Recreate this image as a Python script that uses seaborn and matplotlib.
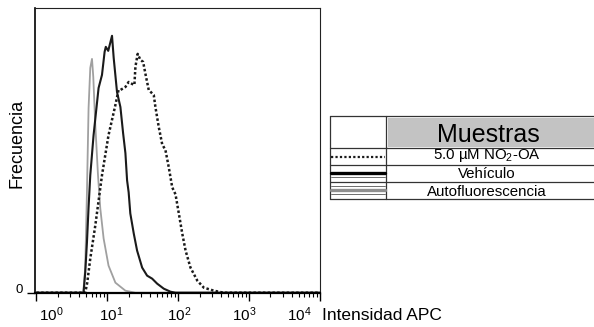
import numpy as np
import pandas as pd
import seaborn as sns
import matplotlib.pyplot as plt
from matplotlib.patches import Rectangle
from matplotlib.transforms import ScaledTranslation

# Histogram traces (APC intensity vs counts)
nitro_x = [1, 4.88, 5.21, 5.75, 6.77, 8.41, 10.4, 13.0, 14.4, 15.3,
           18.0, 20.0, 22.4, 24.1, 24.9, 26.8, 29.3, 32.0, 34.5, 38.4,
           45.2, 47.7, 53.2, 59.4, 66.1, 73.6, 82.3, 91.6, 102, 114,
           127, 149, 186, 230, 319, 437, 10000]
nitro_y = [0, 0, 10, 34, 67, 117, 157, 187, 202, 202,
           205, 210, 208, 207, 225, 238, 232, 230, 218, 202,
           197, 185, 165, 148, 142, 125, 105, 98, 79, 59,
           42, 25, 12, 5, 2, 0, 0]

veh_x = [1, 4.62, 4.88, 5.16, 5.44, 5.75, 6.40, 7.53, 8.41, 9.16,
         9.52, 10.3, 11.65, 12.3, 13.7, 15.3, 16.7, 18.0, 19.0, 20.0,
         21.1, 23.6, 26.3, 31.0, 36.4, 42.9, 50.5, 62.6, 77.8, 91.6,
         10000]
veh_y = [0, 0, 20, 50, 85, 117, 157, 204, 217, 240,
         245, 241, 256, 234, 200, 185, 159, 139, 112, 100,
         79, 59, 42, 25, 17, 14, 9, 4, 1, 0,
         0]

auto_x = [1, 4.58, 4.88, 5.16, 5.44, 5.75, 6.08, 6.34, 6.77, 7.39,
          7.96, 8.87, 10.4, 13.0, 18.0, 24.9, 10000]
auto_y = [0, 0, 25, 100, 184, 224, 233, 215, 167, 117,
          84, 54, 27, 10, 2, 0, 0]

samples = ["5.0 µM NO$_{\\mathdefault{2}}$-OA", "Vehículo", "Autofluorescencia"]
decades = [1, 10, 100, 1000, 10000]
decade_labels = ["$\\mathdefault{10^{%d}}$" % i for i in range(5)]

sns.set_style("ticks")
plt.rcParams['font.family'] = ['Liberation Sans', 'DejaVu Sans']
plt.rcParams['text.color'] = 'black'
plt.rcParams['axes.labelcolor'] = 'black'
plt.rcParams['xtick.color'] = 'black'
plt.rcParams['ytick.color'] = 'black'

df = pd.concat([
    pd.DataFrame({"APC": nitro_x, "count": nitro_y, "sample": samples[0]}),
    pd.DataFrame({"APC": veh_x, "count": veh_y, "sample": samples[1]}),
    pd.DataFrame({"APC": auto_x, "count": auto_y, "sample": samples[2]}),
], ignore_index=True)

styles = {
    samples[2]: dict(color="#a0a0a0", lw=1.3, ls="-"),
    samples[1]: dict(color="#1a1a1a", lw=1.5, ls="-"),
    samples[0]: dict(color="#1a1a1a", lw=1.8, ls=(0, (1, 0.9))),
}

fig = plt.figure(figsize=(5.94, 3.27), dpi=100)
ax = fig.add_axes([35 / 594, 1 - 292.7 / 327, 285 / 594, 284.4 / 327])

for name in [samples[2], samples[1], samples[0]]:
    st = styles[name]
    sns.lineplot(data=df[df["sample"] == name], x="APC", y="count", ax=ax,
                 estimator=None, sort=False, color=st["color"],
                 linewidth=st["lw"], linestyle=st["ls"], legend=False)

ax.set_xscale("log")
ax.set_xlim(10 ** -0.02, 10 ** 4.0)
ax.set_ylim(0, 283.4)
ax.set_xticks(decades)
ax.set_xticklabels(decade_labels)
ax.set_xticks([m * d for d in decades[:-1] for m in range(2, 10)], minor=True)
ax.set_yticks([0])
ax.set_yticklabels(["0"])
ax.set_xlabel("")
ax.set_ylabel("Frecuencia", fontsize=13)
ax.yaxis.set_label_coords(-0.035, 0.526)

for side in ["top", "right"]:
    ax.spines[side].set_linewidth(0.8)
    ax.spines[side].set_color("#222222")
ax.spines["left"].set_linewidth(1.2)
ax.spines["left"].set_color("black")
ax.spines["bottom"].set_linewidth(1.6)
ax.spines["bottom"].set_color("black")

ax.tick_params(axis="x", which="major", length=6, width=1.0, pad=3.5,
               labelsize=11)
ax.tick_params(axis="x", which="minor", length=3, width=0.8)
ax.tick_params(axis="y", length=6, width=1.0, pad=3, labelsize=9.5)

# FlowJo-style label placement: labels sit a bit off their ticks
shifts = [0.15, 0.04, 0.01, -0.05, -0.205]
for lab, dx in zip(ax.get_xticklabels(), shifts):
    lab.set_transform(lab.get_transform() + ScaledTranslation(dx, 0, fig.dpi_scale_trans))
for lab in ax.get_yticklabels():
    lab.set_transform(lab.get_transform() + ScaledTranslation(0, 0.04, fig.dpi_scale_trans))

fig.text(322 / 594, 1 - 320 / 327, "Intensidad APC", fontsize=12.5,
         ha="left", va="baseline")

# legend table drawn in pixel coordinates
tab = fig.add_axes([0, 0, 1, 1], zorder=3)
tab.set_xlim(0, 594)
tab.set_ylim(327, 0)
tab.axis("off")

row_y = [116, 148, 165, 182, 199]
tab.add_patch(Rectangle((388, 118), 220, 28.5, color="#c3c3c3", lw=0))
for y in row_y:
    tab.plot([330, 600], [y, y], color="#333333", lw=0.9)
for x in [330, 386]:
    tab.plot([x, x], [116, 199], color="#333333", lw=0.9)

tab.text(488, 141.5, "Muestras", fontsize=18, ha="center", va="baseline")
for name, base in zip(samples, [159.5, 177.5, 196]):
    tab.text(487, base, name, fontsize=10.8, ha="center", va="baseline")

tab.plot([331, 385], [156.5, 156.5], color="#1a1a1a", lw=1.6, ls=(0, (1, 1)))
tab.plot([331, 385], [173.3, 173.3], color="black", lw=2.4)
tab.plot([331, 385], [177, 177], color="#555555", lw=0.6)
tab.plot([331, 385], [185.5, 185.5], color="#555555", lw=0.6)
tab.plot([331, 385], [190, 190], color="#8f8f8f", lw=2.4)
tab.plot([331, 385], [193.8, 193.8], color="#555555", lw=0.6)

fig.savefig("out.png", dpi=100)
